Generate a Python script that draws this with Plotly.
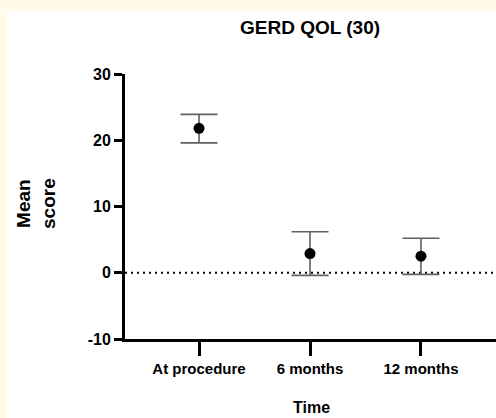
import plotly.graph_objects as go

categories = ["At procedure", "6 months", "12 months"]
means = [21.8, 2.9, 2.5]
err_plus = [2.1, 3.3, 2.7]
err_minus = [2.2, 3.3, 2.75]
y_ticks = [-10, 0, 10, 20, 30]
y_tick_labels = ["-10", "0", "10", "20", "30"]

FONT = "Liberation Sans, Arial, sans-serif"

fig = go.Figure()
fig.add_trace(go.Scatter(
    x=categories, y=means, mode="markers",
    marker=dict(symbol="circle", size=11, color="black"),
    error_y=dict(type="data", symmetric=False, array=err_plus, arrayminus=err_minus,
                 color="#606060", thickness=1.6, width=18.5),
    showlegend=False, cliponaxis=False,
))

W, H = 496, 418
L, R, T, B = 125, 0, 74, 79
pw, ph = W - L - R, H - T - B

def px_x(p):
    return (p - L) / pw

def px_y(p):
    return (H - B - p) / ph

fig.update_layout(
    width=W, height=H,
    margin=dict(l=L, r=R, t=T, b=B, pad=0),
    paper_bgcolor="#FFFBE8",
    plot_bgcolor="white",
    font=dict(family=FONT, color="black"),
    shapes=[
        dict(type="rect", xref="paper", yref="paper", layer="below",
             x0=px_x(7), x1=px_x(W + 2), y0=px_y(H + 2), y1=px_y(11),
             fillcolor="white", line=dict(width=0)),
        dict(type="line", xref="paper", yref="y", x0=0, x1=1, y0=0, y1=0,
             line=dict(color="black", width=2, dash="2px,4px"), layer="below"),
    ],
    annotations=[
        dict(text="<b>GERD QOL (30)</b>", xref="paper", yref="paper",
             x=px_x(310), y=px_y(27), showarrow=False,
             font=dict(size=19, family=FONT), xanchor="center", yanchor="middle"),
        dict(text="<b>Mean<br>score</b>", xref="paper", yref="paper",
             x=px_x(36), y=px_y(204), showarrow=False, textangle=-90,
             font=dict(size=19, family=FONT), xanchor="center", yanchor="middle"),
        dict(text="<b>Time</b>", xref="paper", yref="paper",
             x=px_x(311), y=px_y(407), showarrow=False,
             font=dict(size=16, family=FONT), xanchor="center", yanchor="middle"),
    ],
    xaxis=dict(
        type="category", categoryorder="array", categoryarray=categories,
        range=[-0.667, 2.676], showgrid=False, zeroline=False,
        showline=True, linecolor="black", linewidth=3,
        ticks="outside", ticklen=14, tickwidth=3, tickcolor="black",
        tickfont=dict(size=15, family=FONT, weight="bold"),
    ),
    yaxis=dict(
        range=[-10, 30], tickvals=y_ticks, ticktext=y_tick_labels,
        showgrid=False, zeroline=False,
        showline=True, linecolor="black", linewidth=3,
        ticks="outside", ticklen=8, tickwidth=2.5, tickcolor="black",
        tickfont=dict(size=16, family=FONT, weight="bold"),
    ),
)

fig.write_html("out.html")
